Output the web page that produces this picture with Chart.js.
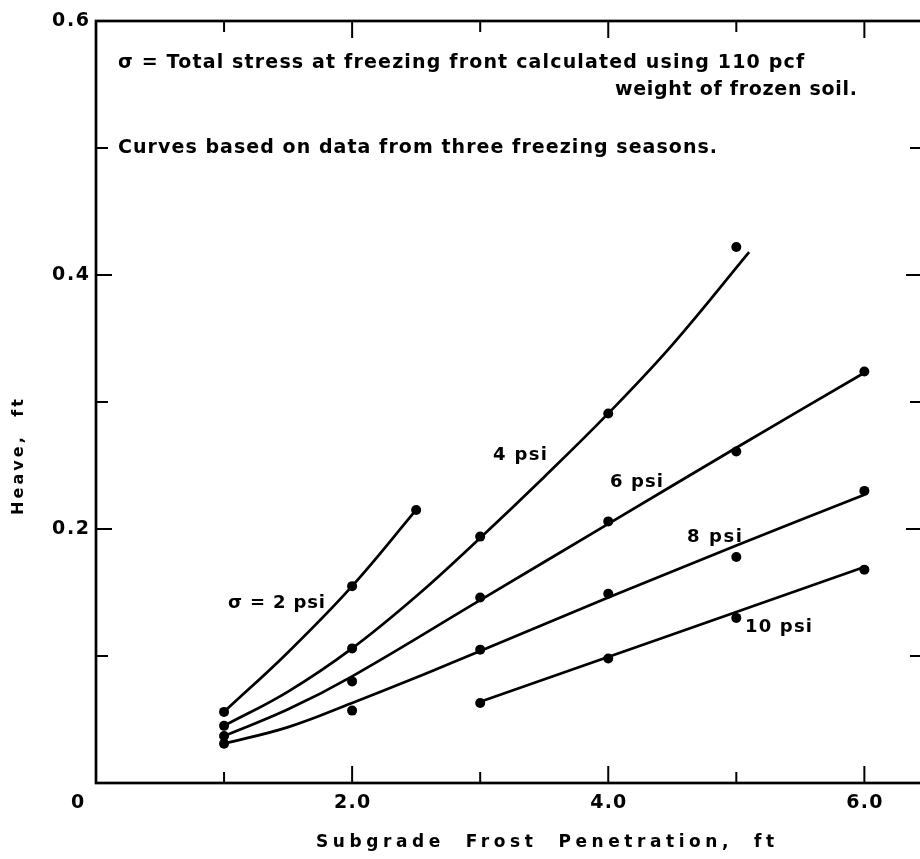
<!DOCTYPE html>
<html>
<head>
<meta charset="utf-8">
<script src="https://cdn.jsdelivr.net/npm/chart.js@4.4.1/dist/chart.umd.min.js"></script>
<style>
  html, body { margin: 0; padding: 0; background: #fff; overflow: hidden; }
  #wrap { width: 940px; height: 859px; }
</style>
</head>
<body>
<div id="wrap"><canvas id="c" width="940" height="859"></canvas></div>
<script>
// Observed heave (ft) versus subgrade frost penetration (ft), by total stress
const obs2x  = [1.0, 2.0, 2.5];
const obs2y  = [0.056, 0.155, 0.215];
const obs4x  = [1.0, 2.0, 3.0, 4.0, 5.0];
const obs4y  = [0.045, 0.106, 0.194, 0.291, 0.422];
const obs6x  = [1.0, 2.0, 3.0, 4.0, 5.0, 6.0];
const obs6y  = [0.037, 0.080, 0.146, 0.206, 0.261, 0.324];
const obs8x  = [1.0, 2.0, 3.0, 4.0, 5.0, 6.0];
const obs8y  = [0.031, 0.057, 0.105, 0.149, 0.178, 0.230];
const obs10x = [3.0, 4.0, 5.0, 6.0];
const obs10y = [0.063, 0.098, 0.130, 0.168];

// Fitted curves
const fit2x  = [1.0, 1.5, 2.0, 2.5];
const fit2y  = [0.056, 0.103, 0.155, 0.215];
const fit4x  = [1.0, 1.5, 2.0, 2.5, 3.0, 3.5, 4.0, 4.5, 5.1];
const fit4y  = [0.045, 0.072, 0.106, 0.147, 0.193, 0.241, 0.291, 0.345, 0.418];
const fit6x  = [1.0, 1.5, 2.0, 3.0, 4.0, 5.0, 6.0];
const fit6y  = [0.037, 0.058, 0.084, 0.144, 0.204, 0.264, 0.323];
const fit8x  = [1.0, 1.5, 2.0, 2.5, 3.0, 4.0, 5.0, 6.0];
const fit8y  = [0.031, 0.044, 0.063, 0.083, 0.104, 0.146, 0.187, 0.227];
const fit10x = [3.0, 6.0];
const fit10y = [0.064, 0.170];

// Axis ticks and labels
const xTicks      = [1, 2, 3, 4, 5, 6];
const xTickLabels = ['', '2.0', '', '4.0', '', '6.0'];
const yTicks      = [0.1, 0.2, 0.3, 0.4, 0.5, 0.6];
const yTickLabels = ['', '0.2', '', '0.4', '', '0.6'];
const originLabel = '0';
const xTitle = 'Subgrade  Frost  Penetration,  ft';
const yTitle = 'Heave,  ft';

// Curve labels and notes
const curveLabels = ['\u03C3 = 2 psi', '4 psi', '6 psi', '8 psi', '10 psi'];
const noteLines = [
  '\u03C3 = Total stress at freezing front calculated using 110 pcf',
  'weight of frozen soil.',
  'Curves based on data from three freezing seasons.'
];

const pts = (xs, ys) => xs.map((x, i) => ({ x, y: ys[i] }));

const curveDs = (xs, ys) => ({
  data: pts(xs, ys), showLine: true, borderColor: '#000', borderWidth: 2.7,
  pointRadius: 0, tension: 0.4, fill: false
});
const dotDs = (xs, ys) => ({
  data: pts(xs, ys), showLine: false, pointRadius: 5, pointHoverRadius: 5,
  backgroundColor: '#000', borderColor: '#000', borderWidth: 0
});

const FONT = "'DejaVu Sans', 'Liberation Sans', sans-serif";

// Draw text stretched to a given width with letter spacing
function fitText(ctx, text, left, cy, width, size, weight) {
  ctx.save();
  ctx.font = (weight || 'bold') + ' ' + size + 'px ' + FONT;
  ctx.letterSpacing = '0px';
  const w0 = ctx.measureText(text).width;
  const sp = Math.max(-2, (width - w0) / Math.max(1, text.length - 1));
  ctx.letterSpacing = sp.toFixed(2) + 'px';
  ctx.textAlign = 'left';
  ctx.textBaseline = 'middle';
  ctx.fillStyle = '#000';
  ctx.fillText(text, left, cy);
  ctx.restore();
}

const framePlugin = {
  id: 'frame',
  afterDatasetsDraw(chart) {
    const { ctx, chartArea: a, scales: { x, y } } = chart;
    ctx.save();
    ctx.strokeStyle = '#000';
    ctx.lineWidth = 2.7;
    ctx.strokeRect(a.left, a.top, a.right - a.left, a.bottom - a.top);
    ctx.lineWidth = 2;
    ctx.beginPath();
    xTicks.forEach((v, i) => {
      const px = x.getPixelForValue(v);
      const len = xTickLabels[i] ? 17 : 11;
      ctx.moveTo(px, a.bottom); ctx.lineTo(px, a.bottom - len);
      ctx.moveTo(px, a.top); ctx.lineTo(px, a.top + len);
    });
    yTicks.forEach((v, i) => {
      if (v >= 0.6) return;
      const py = y.getPixelForValue(v);
      const len = yTickLabels[i] ? 16 : 12;
      ctx.moveTo(a.left, py); ctx.lineTo(a.left + len, py);
      ctx.moveTo(a.right, py); ctx.lineTo(a.right - len, py);
    });
    ctx.stroke();
    ctx.restore();

    // tick labels
    xTicks.forEach((v, i) => {
      if (!xTickLabels[i]) return;
      const px = x.getPixelForValue(v);
      fitText(ctx, xTickLabels[i], px - 18, a.bottom + 20, 36, 19);
    });
    yTicks.forEach((v, i) => {
      if (!yTickLabels[i]) return;
      const py = y.getPixelForValue(v);
      fitText(ctx, yTickLabels[i], a.left - 44, py, 37, 19);
    });
    fitText(ctx, originLabel, a.left - 25, a.bottom + 20, 12, 19);

    // axis titles
    fitText(ctx, xTitle, 316, 843, 458, 17);
    ctx.save();
    ctx.translate(19, 457);
    ctx.rotate(-Math.PI / 2);
    fitText(ctx, yTitle, -58, 0, 116, 16);
    ctx.restore();

    // curve labels, placed in data units
    const lab = [
      [1.031, 0.1417, 97], [3.100, 0.2583, 54], [4.014, 0.2370, 53],
      [4.615, 0.1937, 55], [5.068, 0.1228, 67]
    ];
    curveLabels.forEach((t, i) => {
      const [lx, ly, w] = lab[i];
      fitText(ctx, t, x.getPixelForValue(lx), y.getPixelForValue(ly), w, 18);
    });

    // notes
    fitText(ctx, noteLines[0], x.getPixelForValue(0.172), y.getPixelForValue(0.567), 686, 19);
    const w2 = 242;
    fitText(ctx, noteLines[1], x.getPixelForValue(5.942) - w2, y.getPixelForValue(0.5457), w2, 19);
    fitText(ctx, noteLines[2], x.getPixelForValue(0.172), y.getPixelForValue(0.500), 599, 19);
  }
};

new Chart(document.getElementById('c'), {
  type: 'scatter',
  data: {
    datasets: [
      curveDs(fit2x, fit2y), curveDs(fit4x, fit4y), curveDs(fit6x, fit6y),
      curveDs(fit8x, fit8y), curveDs(fit10x, fit10y),
      dotDs(obs2x, obs2y), dotDs(obs4x, obs4y), dotDs(obs6x, obs6y),
      dotDs(obs8x, obs8y), dotDs(obs10x, obs10y)
    ]
  },
  options: {
    responsive: false,
    animation: false,
    devicePixelRatio: 1,
    layout: { padding: { left: 96, top: 21, right: 18, bottom: 76 } },
    plugins: { legend: { display: false }, tooltip: { enabled: false } },
    scales: {
      x: { type: 'linear', min: 0, max: 6.45, display: false },
      y: { type: 'linear', min: 0, max: 0.6, display: false }
    }
  },
  plugins: [framePlugin]
});
</script>
</body>
</html>
